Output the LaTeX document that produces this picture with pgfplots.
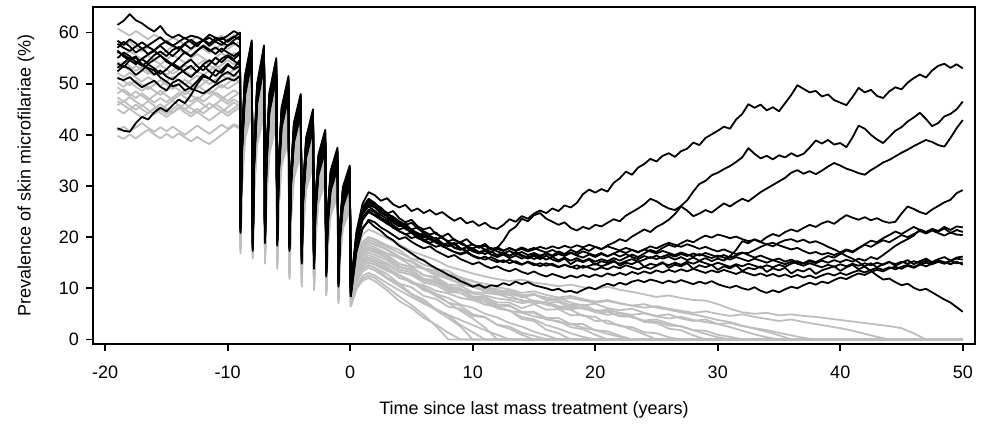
\documentclass[border=0pt]{standalone}
\usepackage{fontspec}
\setmainfont{Liberation Sans}
\usepackage{pgfplots}
\usepackage{pgfplotstable}
\pgfplotsset{compat=1.18}
\definecolor{simgray}{RGB}{190,190,190}

% one row per simulated run: endemic phase and ten annual treatments (-9 ... 0)
\pgfplotstableread[row sep=\\, header=has colnames]{
name -19 -18.5 -18 -17.5 -17 -16.5 -16 -15.5 -15 -14.5 -14 -13.5 -13 -12.5 -12 -11.5 -11 -10.5 -10 -9.5 -9
 -8.96 -8.85 -8.6 -8.04 -7.96 -7.85 -7.6 -7.04 -6.96 -6.85 -6.6 -6.04 -5.96 -5.85 -5.6 -5.04 -4.96 -4.85 -4.6 -4.04
 -3.96 -3.85 -3.6 -3.04 -2.96 -2.85 -2.6 -2.04 -1.96 -1.85 -1.6 -1.04 -0.96 -0.85 -0.6 -0.04 0.04 \\
b1 61.5 62.3 63.6 62.4 61.8 60.9 60.2 61.3 59.7 59.0 59.6 58.8 59.4 59.1 58.5 59.6 59.0 58.7 59.4 60.3 59.6
 22.8 38.9 51.5 58.5 19.3 36.5 50.0 57.5 20.8 36.2 48.3 55.0 20.3 34.3 45.4 51.5 19.3 32.2 42.4 48.0
 16.8 29.5 39.5 45.0 15.8 27.1 36.1 41.0 14.3 24.7 33.0 37.5 12.3 22.1 29.8 34.0 10.3 \\
b2 41.3 40.8 40.6 42.3 43.5 43.0 44.4 45.3 44.6 45.8 46.9 46.2 47.8 49.9 51.4 51.0 52.7 52.1 53.6 53.0 54.7
 21.5 37.1 49.0 56.0 18.0 34.7 47.5 55.0 19.5 34.4 45.8 52.5 19.0 32.5 42.9 49.0 18.0 30.4 39.9 45.5
 15.5 27.7 37.0 42.5 14.5 25.3 33.6 38.5 13.0 22.9 30.5 35.0 11.0 20.3 27.3 31.5 9.0 \\
b3 51.1 50.7 51.3 50.2 49.3 50.0 50.6 49.4 48.7 50.2 50.8 49.9 49.0 48.6 48.1 48.9 49.8 50.5 51.1 50.6 51.5
 21.8 37.4 49.5 56.5 18.3 35.0 48.0 55.5 19.8 34.7 46.3 53.0 19.3 32.8 43.4 49.5 18.3 30.7 40.4 46.0
 15.8 28.0 37.5 43.0 14.8 25.6 34.1 39.0 13.3 23.2 31.0 35.5 11.3 20.6 27.8 32.0 9.3 \\
b4 56.2 55.6 54.9 55.3 53.8 53.1 52.6 51.2 50.4 49.5 49.9 48.7 49.3 50.5 51.8 51.0 50.2 51.6 52.3 51.5 52.8
 21.3 36.7 48.5 55.5 17.8 34.3 47.0 54.5 19.3 34.0 45.3 52.0 18.8 32.1 42.4 48.5 17.8 30.0 39.4 45.0
 15.3 27.3 36.5 42.0 14.3 24.9 33.1 38.0 12.8 22.5 30.0 34.5 10.8 19.9 26.8 31.0 8.8 \\
b5 57.8 57.0 56.4 57.3 58.1 57.2 56.5 57.6 58.3 57.5 56.8 57.9 58.6 57.7 58.4 59.0 58.2 57.6 58.5 59.2 58.6
 22.5 38.6 51.0 58.0 19.0 36.2 49.5 57.0 20.5 35.9 47.8 54.5 20.0 34.0 44.9 51.0 19.0 31.9 41.9 47.5
 16.5 29.2 39.0 44.5 15.5 26.8 35.6 40.5 14.0 24.4 32.5 37.0 12.0 21.8 29.3 33.5 10.0 \\
b6 55.0 56.1 55.4 54.2 54.8 53.9 54.7 55.5 54.6 53.8 55.0 56.2 55.4 56.5 57.3 56.4 57.1 56.2 57.5 58.0 57.1
 22.0 37.8 50.0 57.0 18.5 35.4 48.5 56.0 20.0 35.1 46.8 53.5 19.5 33.2 43.9 50.0 18.5 31.1 40.9 46.5
 16.0 28.4 38.0 43.5 15.0 26.0 34.6 39.5 13.5 23.6 31.5 36.0 11.5 21.0 28.3 32.5 9.5 \\
b7 54.0 53.2 54.6 55.1 53.7 52.9 51.8 52.6 51.4 50.8 51.9 52.7 53.5 52.3 53.8 54.6 53.7 54.9 55.6 54.8 55.9
 21.6 37.0 49.2 55.8 18.1 34.8 47.3 55.2 19.4 34.5 45.6 52.7 19.1 32.4 43.1 48.8 17.9 30.5 39.7 45.7
 15.6 27.6 37.2 42.3 14.4 25.4 33.4 38.7 13.1 22.8 30.7 34.8 10.9 20.4 27.1 31.7 9.0 \\
b8 53.1 54.0 55.2 54.3 53.5 54.4 55.6 56.3 55.4 56.6 57.2 56.1 55.3 56.4 57.5 56.7 55.8 56.9 56.1 55.4 56.3
 22.3 38.2 50.5 57.5 18.8 35.8 49.0 56.5 20.3 35.5 47.3 54.0 19.8 33.6 44.4 50.5 18.8 31.5 41.4 47.0
 16.3 28.8 38.5 44.0 15.3 26.4 35.1 40.0 13.8 24.0 32.0 36.5 11.8 21.4 28.8 33.0 9.8 \\
b9 58.4 57.6 58.7 57.9 56.8 57.5 58.3 59.1 58.0 57.4 58.2 59.0 58.1 57.3 58.6 57.8 58.9 58.2 57.4 58.5 59.3
 21.0 36.3 48.0 55.0 17.5 33.9 46.5 54.0 19.0 33.6 44.8 51.5 18.5 31.7 41.9 48.0 17.5 29.6 38.9 44.5
 15.0 26.9 36.0 41.5 14.0 24.5 32.6 37.5 12.5 22.1 29.5 34.0 10.5 19.5 26.3 30.5 8.5 \\
b10 56.5 55.3 54.6 53.8 54.9 55.7 56.4 55.5 54.3 53.6 52.8 53.9 54.7 53.4 52.6 53.8 55.1 54.2 55.3 54.5 53.6
 21.7 37.5 49.3 56.7 18.4 34.9 48.2 55.3 19.7 34.8 46.1 53.2 19.4 32.7 43.6 49.3 18.2 30.8 40.2 46.2
 15.9 27.9 37.7 42.8 14.7 25.7 33.9 39.2 13.4 23.1 31.2 35.3 11.2 20.7 27.6 32.2 9.4 \\
b11 52.4 53.5 52.9 51.7 52.6 53.8 53.0 51.9 52.8 54.0 53.2 52.1 51.3 52.5 53.6 52.4 51.5 52.7 53.9 52.8 53.5
 20.8 35.9 47.5 54.5 17.3 33.5 46.0 53.5 18.8 33.2 44.3 51.0 18.3 31.3 41.4 47.5 17.3 29.2 38.4 44.0
 14.8 26.5 35.5 41.0 13.8 24.1 32.1 37.0 12.3 21.7 29.0 33.5 10.3 19.1 25.8 30.0 8.3 \\
b12 57.0 58.2 57.3 56.1 56.9 55.8 56.6 57.4 56.3 55.4 56.5 57.7 56.8 57.9 58.5 57.4 58.3 59.0 58.2 59.1 60.0
 22.4 38.7 50.8 58.2 19.1 36.1 49.7 56.8 20.4 36.0 47.6 54.7 20.1 33.9 45.1 50.8 18.9 32.0 41.7 47.7
 16.6 29.1 39.2 44.3 15.4 26.9 35.4 40.7 14.1 24.3 32.7 36.8 11.9 21.9 29.1 33.7 10.0 \\
g1 60.8 60.1 59.4 60.3 59.5 58.7 59.6 58.9 58.2 59.0 58.4 57.6 58.5 59.2 58.6 57.9 58.8 59.4 58.7 59.5 58.9
 21.5 37.0 49.0 55.9 20.5 36.0 48.0 54.9 19.5 34.3 45.8 52.4 18.5 32.2 42.9 49.0 16.5 29.6 39.8 45.6
 15.0 27.4 37.1 42.6 14.0 25.1 33.8 38.7 13.0 23.0 30.8 35.3 11.5 20.7 27.8 31.9 10.5 \\
g2 58.5 57.4 58.2 57.1 56.3 57.2 56.5 55.6 56.4 57.3 56.6 55.8 56.7 57.5 56.8 56.0 56.9 57.7 56.8 57.6 58.2
 21.0 36.2 48.0 54.7 20.0 35.2 47.0 53.8 19.0 33.6 44.9 51.4 18.0 31.5 42.0 48.0 16.0 28.9 38.9 44.6
 14.5 26.8 36.3 41.8 13.5 24.5 33.0 37.9 12.5 22.4 30.2 34.6 11.0 20.1 27.2 31.2 10.0 \\
g3 56.3 55.5 56.4 55.6 54.7 55.5 54.6 53.8 54.7 55.6 54.9 54.1 55.0 55.8 55.0 54.2 55.1 56.0 55.2 56.0 55.4
 20.5 35.4 47.0 53.6 19.5 34.4 46.0 52.6 18.5 32.8 44.0 50.3 17.5 30.8 41.1 47.0 15.5 28.2 38.1 43.7
 14.0 26.1 35.5 40.9 13.0 23.8 32.3 37.1 12.0 21.8 29.4 33.8 10.5 19.5 26.6 30.6 9.5 \\
g4 54.2 53.4 52.6 53.5 52.7 51.9 52.8 53.6 52.8 51.9 52.7 53.6 52.8 53.7 54.5 53.6 52.8 53.7 54.6 53.8 54.4
 20.0 34.9 46.4 53.0 19.0 33.9 45.5 52.1 18.0 32.3 43.4 49.8 17.0 30.3 40.6 46.5 15.0 27.7 37.6 43.2
 13.5 25.7 35.1 40.5 12.5 23.4 31.9 36.7 11.5 21.4 29.1 33.5 10.0 19.1 26.2 30.2 9.0 \\
g5 53.5 54.3 53.4 52.5 53.3 52.4 51.6 52.5 51.7 52.6 53.4 52.5 51.6 52.5 51.7 52.6 53.5 52.6 51.8 52.7 53.3
 20.0 34.6 45.9 52.4 19.0 33.6 45.0 51.5 18.0 32.0 43.0 49.2 17.0 30.1 40.2 46.0 15.0 27.5 37.2 42.8
 13.5 25.4 34.7 40.0 12.5 23.2 31.5 36.3 11.5 21.2 28.8 33.1 10.0 19.0 25.9 29.9 9.0 \\
g6 52.1 51.3 52.2 51.2 50.4 51.3 50.5 49.6 50.5 51.4 50.6 49.8 50.7 51.6 50.8 49.9 50.8 51.7 50.9 51.8 51.2
 19.5 34.1 45.4 51.9 18.5 33.1 44.5 51.0 17.5 31.5 42.5 48.7 16.5 29.6 39.7 45.5 14.5 27.0 36.7 42.3
 13.0 25.0 34.3 39.6 12.0 22.8 31.1 35.9 11.0 20.8 28.4 32.8 9.5 18.5 25.6 29.6 8.5 \\
g7 51.4 50.5 49.7 50.6 49.8 48.9 49.8 50.7 49.8 49.0 49.9 50.8 50.0 49.1 50.0 50.9 50.1 49.2 50.1 51.0 50.3
 19.5 33.8 45.0 51.3 18.5 32.9 44.0 50.4 17.5 31.3 42.1 48.2 16.5 29.3 39.3 45.0 14.5 26.8 36.4 41.9
 13.0 24.8 34.0 39.2 12.0 22.6 30.9 35.6 11.0 20.6 28.1 32.4 9.5 18.4 25.3 29.3 8.5 \\
g8 50.2 49.4 50.3 49.4 48.6 49.5 48.6 47.8 48.7 49.6 48.8 47.9 48.8 49.7 48.8 48.0 48.9 49.8 49.0 49.8 50.5
 19.0 33.3 44.4 50.7 18.0 32.3 43.4 49.8 17.0 30.8 41.5 47.6 16.0 28.8 38.8 44.5 14.0 26.3 35.9 41.4
 12.5 24.3 33.5 38.7 11.5 22.2 30.5 35.2 10.5 20.2 27.7 32.0 9.0 18.0 24.9 28.9 8.0 \\
g9 49.3 48.4 47.6 48.5 47.6 46.8 47.7 48.6 47.7 46.8 47.7 48.6 47.8 46.9 47.8 48.7 47.8 47.0 47.9 48.7 48.0
 18.5 32.5 43.4 49.6 17.5 31.5 42.5 48.7 16.5 30.0 40.5 46.5 15.5 28.1 37.9 43.5 13.5 25.7 35.1 40.5
 12.0 23.6 32.6 37.8 11.0 21.5 29.7 34.4 10.0 19.6 27.0 31.3 8.5 17.4 24.3 28.3 7.5 \\
g10 48.1 48.9 48.0 47.2 48.1 47.2 46.3 47.2 46.4 47.3 48.2 47.3 46.5 47.4 46.5 47.4 48.3 47.5 46.6 47.5 48.3
 18.5 32.2 42.9 49.0 17.5 31.3 42.1 48.2 16.5 29.8 40.1 46.0 15.5 27.9 37.5 43.0 13.5 25.4 34.7 40.0
 12.0 23.4 32.3 37.4 11.0 21.4 29.4 34.0 10.0 19.5 26.8 31.0 8.5 17.3 24.1 28.0 7.5 \\
g11 47.3 46.5 47.4 46.5 45.7 46.6 45.7 44.9 45.8 46.7 45.8 45.0 45.9 46.8 45.9 45.1 46.0 46.9 46.0 46.9 46.2
 18.0 31.7 42.4 48.5 17.0 30.8 41.5 47.6 16.0 29.3 39.6 45.5 15.0 27.4 37.0 42.5 13.0 24.9 34.2 39.5
 11.5 23.0 31.9 37.0 10.5 20.9 29.0 33.6 9.5 19.0 26.4 30.6 8.0 16.8 23.7 27.6 7.0 \\
g12 46.6 45.8 45.0 45.9 45.0 44.2 45.1 46.0 45.1 44.3 45.2 46.1 45.2 44.4 45.3 46.2 45.3 44.5 45.4 46.3 45.6
 18.0 31.5 41.9 47.9 17.0 30.5 41.0 47.0 16.0 29.0 39.1 44.9 15.0 27.2 36.6 42.0 13.0 24.7 33.9 39.1
 11.5 22.8 31.5 36.5 10.5 20.7 28.7 33.2 9.5 18.8 26.1 30.2 8.0 16.7 23.4 27.3 7.0 \\
g13 45.8 46.6 45.7 44.9 45.8 44.9 44.0 44.9 44.1 45.0 45.9 45.0 44.2 45.1 44.2 45.1 46.0 45.2 44.3 45.2 46.0
 17.5 30.9 41.3 47.3 16.5 30.0 40.5 46.5 15.5 28.5 38.6 44.4 14.5 26.7 36.1 41.5 12.5 24.2 33.4 38.6
 11.0 22.3 31.1 36.1 10.0 20.3 28.2 32.8 9.0 18.4 25.7 29.9 7.5 16.3 23.1 27.0 6.5 \\
g14 45.0 44.2 45.1 44.2 43.4 44.3 45.2 44.3 43.5 44.4 45.3 44.4 43.6 44.5 43.6 42.8 43.7 44.6 43.7 44.6 45.4
 17.5 30.6 40.9 46.7 16.5 29.7 40.0 45.9 15.5 28.3 38.2 43.9 14.5 26.4 35.7 41.0 12.5 24.0 33.0 38.1
 11.0 22.1 30.8 35.7 10.0 20.1 27.9 32.4 9.0 18.2 25.4 29.5 7.5 16.1 22.9 26.7 6.5 \\
g15 40.8 41.6 40.7 41.5 42.3 41.4 40.6 41.5 40.7 41.6 40.8 40.0 40.9 41.8 41.0 40.2 41.1 42.0 41.2 42.1 41.5
 17.0 29.9 39.9 45.6 16.0 29.0 39.0 44.8 15.0 27.5 37.2 42.8 14.0 25.7 34.8 40.0 12.0 23.3 32.2 37.2
 10.5 21.4 29.9 34.8 9.7 19.6 27.2 31.6 8.7 17.7 24.8 28.8 7.2 15.7 22.2 26.0 6.4 \\
g16 39.8 39.2 40.1 39.3 40.2 41.0 40.1 39.3 40.2 39.4 40.3 39.5 38.7 39.6 38.8 38.2 39.1 40.0 40.9 41.8 41.2
 16.8 29.3 39.0 44.5 15.8 28.4 38.1 43.7 14.8 26.9 36.3 41.7 13.8 25.1 34.0 39.0 11.8 22.8 31.4 36.3
 10.3 20.9 29.2 33.9 9.6 19.1 26.6 30.8 8.6 17.4 24.2 28.1 7.1 15.3 21.7 25.4 6.4 \\
}\preraw
\pgfplotstabletranspose[colnames from=name]{\pretab}{\preraw}

% runs that keep transmission going after the last treatment
\pgfplotstableread[row sep=\\, header=has colnames]{
name 0.04 0.5 1 1.5 2 2.5 3 3.5 4 4.5 5 5.5 6 6.5 7 7.5 8 8.5 9 9.5 10 10.5 11 11.5 12 12.5 13 13.5 14 14.5 15
 15.5 16 16.5 17 17.5 18 18.5 19 19.5 20 20.5 21 21.5 22 22.5 23 23.5 24 24.5 25 25.5 26 26.5 27 27.5 28 28.5 29 29.5 30
 30.5 31 31.5 32 32.5 33 33.5 34 34.5 35 35.5 36 36.5 37 37.5 38 38.5 39 39.5 40 40.5 41 41.5 42 42.5 43 43.5 44 44.5 45
 45.5 46 46.5 47 47.5 48 48.5 49 49.5 50 \\
b1 10.3 21.0 26.5 28.8 28.2 27.1 27.6 26.4 25.8 26.3 25.1 25.6 24.7 25.3 24.4 24.9 24.0 23.2 23.8 22.7 23.1
 22.2 22.8 21.9 21.6 22.4 23.5 23.0 24.1 23.6 24.6 25.2 24.7 25.6 25.1 26.2 25.8 26.7 28.4 29.3 28.7
 29.4 28.9 30.6 31.5 32.8 32.2 33.6 34.3 35.3 34.8 35.9 36.4 35.7 36.8 37.3 38.5 38.0 39.4 40.1 40.8
 41.6 41.2 43.0 44.1 46.0 45.3 45.9 44.8 45.4 44.6 46.2 47.8 49.7 49.0 48.3 48.6 47.5 47.9 46.8 46.3
 45.8 47.4 49.2 48.3 48.8 47.6 47.2 48.5 49.3 48.9 50.2 51.1 51.8 51.2 52.6 53.5 53.9 53.1 53.8 53.0 \\
b2 9.0 20.0 25.5 27.2 26.4 25.8 24.6 25.1 23.7 22.9 23.4 22.1 21.5 21.9 20.6 20.1 20.7 19.4 19.0 19.6 18.5
 18.1 18.7 17.6 17.9 19.3 21.2 22.0 23.6 23.1 24.3 24.7 23.6 23.0 22.4 22.9 21.8 21.3 22.0 21.6 22.4
 22.1 22.8 23.5 23.1 24.2 24.9 25.6 26.4 27.5 27.0 26.2 25.6 25.3 26.1 27.2 28.9 30.4 31.0 32.1 32.6
 33.3 33.9 34.7 35.6 37.4 36.3 35.4 35.9 35.2 36.0 35.6 36.4 35.8 36.3 37.5 38.9 38.3 39.0 38.1 38.4
 37.6 39.5 41.8 41.2 40.0 39.1 38.4 39.6 40.8 41.5 42.6 43.4 44.3 43.1 41.7 42.3 43.6 44.1 45.0 46.5 \\
b3 9.3 19.5 24.8 26.0 25.1 24.3 23.6 22.8 22.1 22.6 21.4 20.8 20.2 19.5 19.9 18.8 18.3 18.9 17.8 17.3 17.7
 16.9 17.4 16.6 16.2 16.8 16.3 17.1 16.5 16.0 16.6 16.1 16.9 16.4 17.2 16.7 17.5 17.0 17.8 17.3 18.1
 17.6 18.4 18.9 19.6 19.2 20.1 20.8 21.5 21.0 22.0 22.6 23.4 24.5 26.0 25.2 24.1 24.6 25.3 24.8 25.7
 26.6 26.0 26.8 27.5 27.0 27.9 28.8 29.5 30.2 30.9 31.6 32.6 33.1 32.4 32.9 32.3 33.0 33.8 34.5 34.0
 33.4 33.0 32.5 32.2 33.1 33.8 34.6 35.1 35.8 36.5 37.1 37.8 38.4 39.0 38.6 38.0 37.7 39.4 41.3 42.9 \\
b4 8.8 18.8 23.6 24.9 24.2 23.4 22.9 21.8 21.2 20.5 20.9 19.8 19.3 19.8 18.9 18.4 18.8 17.9 17.5 18.1 17.4
 17.0 17.6 17.1 17.7 17.3 17.9 17.4 18.0 17.5 17.9 17.4 17.0 17.5 16.9 16.5 17.0 16.6 17.2 16.8 16.4
 16.9 16.3 16.8 16.2 16.7 16.1 15.7 16.3 15.9 16.4 15.8 16.2 15.6 16.1 15.5 16.0 15.4 15.9 15.3 15.8
 15.4 16.3 17.5 19.2 18.8 19.6 19.1 20.0 20.6 20.2 21.0 21.5 21.1 21.8 22.4 22.0 22.7 23.1 22.6 23.5
 24.3 23.8 23.4 23.9 23.3 23.7 23.1 22.8 23.0 24.6 26.0 25.5 24.9 24.5 25.4 26.1 26.8 27.3 28.6 29.2 \\
b5 10.0 20.5 25.8 27.5 26.7 25.4 24.8 23.6 23.0 22.2 21.5 21.9 20.7 20.1 19.6 20.0 19.0 18.6 19.1 18.2 17.8
 18.3 17.5 17.9 17.2 16.8 17.3 16.7 17.1 16.5 16.9 16.4 16.8 16.2 16.7 16.3 16.9 16.4 16.0 16.6 16.1
 16.7 16.2 16.8 17.3 16.9 17.5 17.0 17.6 18.2 17.8 18.4 18.9 18.5 18.1 18.6 18.2 17.7 18.1 17.6 17.2
 17.6 17.1 16.7 17.0 16.5 16.0 16.4 15.9 15.5 15.8 15.2 15.6 15.1 14.8 15.3 14.9 15.4 15.0 15.5 15.1
 15.6 15.2 15.8 15.4 16.1 15.7 16.5 17.4 18.3 19.0 19.6 20.3 21.5 21.0 21.6 21.2 22.0 21.4 22.1 21.9 \\
b6 9.5 19.2 24.4 26.3 25.8 24.7 24.1 23.0 22.5 21.6 21.0 20.3 20.7 19.6 19.1 18.5 18.9 18.0 17.6 18.0 17.2
 16.8 17.3 16.6 16.1 16.6 15.9 16.4 15.8 16.3 15.7 16.2 15.6 16.1 15.5 16.0 15.4 15.9 15.3 15.8 15.2
 15.7 15.3 15.9 15.4 16.0 16.6 16.1 16.8 17.5 17.1 17.9 18.5 18.1 18.8 19.4 19.0 19.7 20.3 19.9 20.5
 20.2 19.8 20.1 19.6 19.2 19.5 19.0 18.6 18.9 18.4 18.0 17.6 17.9 17.3 16.8 17.1 16.6 16.9 16.5 17.0
 17.6 17.2 17.9 18.6 19.3 19.0 19.8 20.4 21.1 20.6 21.3 22.0 21.4 20.9 21.6 21.1 21.7 20.8 21.4 21.0 \\
b7 9.0 18.6 23.3 25.0 24.4 23.5 22.6 22.0 21.1 20.6 19.8 20.2 19.2 18.7 18.1 18.5 17.6 17.1 16.6 17.0 16.3
 15.8 16.2 15.6 15.1 15.5 14.9 15.3 14.7 15.1 14.5 14.9 14.4 14.8 14.2 14.6 14.1 14.5 14.0 14.4 14.8
 14.3 14.7 15.2 14.8 15.3 15.7 15.2 15.6 16.1 15.7 16.2 16.6 16.2 16.7 16.3 16.8 16.4 16.9 16.5 16.1
 16.5 16.0 16.4 16.9 16.9 17.5 18.1 18.6 18.2 18.9 19.4 19.6 19.1 19.5 18.9 19.2 18.7 18.1 17.6 17.0
 16.3 15.8 15.1 14.2 13.4 12.5 11.7 11.9 11.2 10.6 10.9 10.1 9.6 9.9 9.2 8.5 7.8 7.2 6.3 5.4 \\
b8 9.8 19.8 24.9 26.8 26.0 25.0 24.2 23.3 22.8 21.8 21.2 20.5 19.9 20.3 19.4 18.8 18.2 18.6 17.8 17.3 17.8
 17.1 16.7 17.2 16.5 17.0 16.4 16.9 16.3 15.8 16.3 15.7 16.4 15.6 15.2 15.8 14.7 15.5 15.1 15.6 14.6
 15.3 14.9 15.5 14.4 15.0 14.7 15.3 14.2 14.8 14.5 15.1 14.0 14.6 14.3 14.9 13.8 14.5 14.1 14.6 13.6
 14.3 13.9 14.5 13.4 14.0 13.7 14.3 13.2 13.9 13.5 14.0 12.9 13.6 13.3 13.9 12.8 13.5 13.9 14.3 13.4
 14.1 14.6 13.7 14.3 14.9 14.1 14.7 15.2 14.4 15.0 15.5 14.7 15.3 15.8 15.1 15.7 16.1 15.4 16.0 16.2 \\
b9 8.5 17.5 21.8 23.1 22.0 21.2 20.1 19.4 18.3 17.6 16.8 16.0 15.4 14.6 13.9 13.3 12.6 12.1 11.4 10.9 10.3
 10.7 10.1 10.6 10.4 11.0 10.6 11.3 10.8 11.2 10.6 10.3 10.0 9.6 9.9 9.3 9.5 9.1 9.7 10.2 9.8
 10.4 10.9 10.5 11.1 10.7 11.3 11.6 11.2 11.7 11.4 11.0 11.5 11.1 11.6 11.2 10.8 11.3 10.9 11.4 10.8
 10.4 10.1 10.5 10.0 9.7 10.2 9.5 9.1 9.6 9.2 9.8 10.3 10.0 10.6 11.1 10.7 11.3 11.0 11.6 12.1
 11.8 12.4 12.9 12.6 13.2 13.6 13.3 13.9 14.2 13.8 14.4 14.0 14.6 15.0 14.7 15.2 14.9 15.4 15.8 15.6 \\
b10 9.4 18.9 23.8 25.4 24.9 23.8 23.2 22.3 21.5 21.9 20.8 20.2 19.5 18.9 19.3 18.2 17.7 17.1 16.8 17.2 16.4
 16.0 15.6 16.1 15.5 15.1 15.6 15.0 14.6 15.2 14.8 14.3 14.9 14.5 14.1 14.6 14.2 13.8 14.4 14.0 13.6
 14.1 13.7 14.3 13.9 14.5 14.1 13.7 14.2 13.8 14.4 14.9 14.5 15.0 14.6 15.2 14.8 15.3 14.9 14.5 15.0
 14.6 14.2 14.7 14.3 14.8 14.4 14.0 14.5 14.1 14.6 14.2 14.8 15.3 14.9 15.5 15.1 15.7 16.3 16.0 16.7
 17.4 17.0 17.8 18.5 18.1 18.8 19.4 19.0 19.7 20.4 20.0 20.6 21.2 20.7 21.3 20.8 20.3 20.9 20.5 20.4 \\
b11 8.3 17.0 21.6 23.4 22.9 21.9 21.2 20.4 19.6 20.0 19.1 18.4 17.8 18.2 17.3 16.7 16.1 16.5 15.7 15.2 14.7
 15.1 14.4 13.9 14.3 13.7 13.3 13.8 13.2 12.8 13.3 12.7 12.3 12.8 12.4 12.0 12.5 12.1 12.6 12.2 12.7
 12.3 12.9 12.5 13.0 12.6 13.2 12.8 13.3 12.9 13.5 13.1 13.6 13.2 13.7 13.3 13.8 13.4 13.0 13.5 13.1
 13.6 13.2 12.8 13.3 12.9 12.5 12.9 12.4 12.8 12.3 12.7 12.2 12.6 12.1 12.5 12.0 12.5 12.9 12.5 13.0
 12.6 13.1 13.5 13.1 13.6 14.0 13.6 14.1 13.7 14.2 14.6 14.2 14.7 14.3 14.8 15.2 14.8 15.3 14.9 15.0 \\
b12 10.0 20.2 25.2 27.0 26.3 25.5 24.5 24.0 23.1 22.4 22.8 21.7 21.1 20.5 20.9 19.8 19.2 19.6 18.7 18.2 18.6
 17.9 18.3 17.6 18.0 17.4 17.8 17.3 17.7 17.2 17.6 18.1 17.7 18.2 17.8 18.3 17.9 18.4 18.0 18.5 18.1
 17.7 18.2 17.8 17.4 17.9 17.5 17.1 17.6 17.2 16.8 17.3 16.9 16.5 17.0 16.6 16.2 16.7 16.3 15.9 16.4
 16.0 15.6 16.1 15.7 15.3 15.8 15.4 15.0 15.5 15.1 14.7 15.2 14.8 14.4 14.9 14.5 14.1 14.6 14.2 14.7
 14.3 14.8 14.4 14.9 14.5 15.0 14.6 15.1 14.7 15.2 14.8 15.3 14.9 15.4 15.0 15.5 15.1 14.7 15.2 14.6 \\
}\blackraw
\pgfplotstabletranspose[colnames from=name]{\blacktab}{\blackraw}

% runs that reach elimination (g17-g24 continue from the minima of earlier runs)
\pgfplotstableread[row sep=\\, header=has colnames]{
name 0.04 0.5 1 1.5 2 3 4 5 6 7 8 9 10 11 12 13 14 15 16 17 18 19 20 21 22
 23 24 25 26 27 28 29 30 31 32 33 34 35 36 37 38 39 40 41 42 43 44 45 46 47 48 49 50 \\
g1 10.5 16.2 19.1 20.0 19.6 18.4 17.5 15.7 15.6 13.8 13.4 12.0 11.5 10.2 9.8 8.9 8.6 7.4 7.2 6.0 5.8 4.6 4.4 3.1 2.8
 1.9 1.0 0 0 0 0 0 0 0 0 0 0 0 0 0 0 0 0 0 0 0 0 0 0 0 0 0 0 \\
g2 10.0 16.8 20.5 21.5 21.0 19.8 18.6 17.2 16.4 15.5 14.3 13.6 12.9 12.3 11.8 11.4 11.7 11.1 10.8 10.4 10.7 10.2 9.9 10.3 9.7
 9.3 8.8 8.3 8.6 8.1 7.7 7.6 6.9 6.0 5.3 5.0 5.2 4.7 4.9 4.6 4.4 4.1 3.8 3.5 3.2 2.9 2.6 2.2 1.2 0 0 0 0 \\
g3 9.5 14.6 17.2 18.0 17.6 16.5 14.8 14.1 12.6 11.9 10.3 10.0 8.2 7.8 6.1 5.7 4.0 3.6 1.9 1.2 0 0 0 0 0
 0 0 0 0 0 0 0 0 0 0 0 0 0 0 0 0 0 0 0 0 0 0 0 0 0 0 0 0 \\
g4 9.0 15.6 19.0 20.0 19.4 18.1 16.9 15.8 14.6 13.9 12.8 12.2 11.3 10.9 10.2 9.8 9.1 9.4 8.7 8.2 8.5 7.9 7.4 7.7 7.1
 6.6 6.9 6.2 5.8 5.3 4.9 4.4 3.8 3.4 2.7 2.1 1.5 0.8 0 0 0 0 0 0 0 0 0 0 0 0 0 0 0 \\
g5 9.0 13.2 15.3 16.0 15.5 14.1 12.6 11.4 9.9 8.5 7.2 5.6 4.1 2.3 0 0 0 0 0 0 0 0 0 0 0
 0 0 0 0 0 0 0 0 0 0 0 0 0 0 0 0 0 0 0 0 0 0 0 0 0 0 0 0 \\
g6 8.5 14.8 18.1 19.0 18.6 17.5 15.8 15.3 13.9 13.4 12.1 11.8 10.6 10.4 9.3 9.3 8.2 8.8 7.7 7.6 6.7 6.8 5.7 5.6 4.6
 4.5 3.4 3.2 2.1 1.8 0.8 0 0 0 0 0 0 0 0 0 0 0 0 0 0 0 0 0 0 0 0 0 0 \\
g7 8.5 13.9 16.6 17.5 17.0 16.0 14.2 13.7 11.8 11.6 9.9 9.8 8.3 8.2 6.8 6.7 5.3 5.2 3.9 3.6 2.4 2.0 0.9 0 0
 0 0 0 0 0 0 0 0 0 0 0 0 0 0 0 0 0 0 0 0 0 0 0 0 0 0 0 0 \\
g8 8.0 14.9 18.5 19.5 19.0 17.6 16.2 15.1 13.8 12.9 11.8 11.1 10.3 9.8 9.2 8.9 8.4 8.7 8.2 7.8 8.1 7.6 7.2 7.5 7.0
 6.6 6.2 6.5 6.0 5.6 5.2 5.5 5.0 4.6 4.9 4.4 4.0 3.6 3.9 3.4 3.0 2.6 2.2 1.7 1.1 0.5 0 0 0 0 0 0 0 \\
g9 7.5 12.3 14.8 15.5 15.0 13.8 12.0 11.3 9.6 8.9 7.2 6.6 4.9 4.4 2.8 2.1 0.9 0 0 0 0 0 0 0 0
 0 0 0 0 0 0 0 0 0 0 0 0 0 0 0 0 0 0 0 0 0 0 0 0 0 0 0 0 \\
g10 7.5 13.8 17.1 18.0 17.5 16.4 14.7 14.2 12.5 12.2 10.7 10.5 9.2 9.1 8.8 8.7 7.5 7.6 7.2 7.3 6.2 6.3 5.3 5.4 4.5
 4.5 3.6 3.5 2.7 2.6 1.8 1.7 0.9 0.5 0 0 0 0 0 0 0 0 0 0 0 0 0 0 0 0 0 0 0 \\
g11 7.0 11.2 13.3 14.0 13.5 11.9 10.4 8.8 7.3 5.7 4.2 2.5 0 0 0 0 0 0 0 0 0 0 0 0 0
 0 0 0 0 0 0 0 0 0 0 0 0 0 0 0 0 0 0 0 0 0 0 0 0 0 0 0 0 \\
g12 7.0 12.7 15.6 16.5 16.0 14.9 13.2 12.6 11.1 10.6 9.3 9.1 7.8 7.8 6.5 6.5 5.4 5.4 4.2 4.2 3.0 3.0 1.8 1.6 0.7
 0 0 0 0 0 0 0 0 0 0 0 0 0 0 0 0 0 0 0 0 0 0 0 0 0 0 0 0 \\
g13 6.5 10.1 11.9 12.5 12.0 10.2 8.4 6.7 4.8 2.6 0 0 0 0 0 0 0 0 0 0 0 0 0 0 0
 0 0 0 0 0 0 0 0 0 0 0 0 0 0 0 0 0 0 0 0 0 0 0 0 0 0 0 0 \\
g14 6.5 12.8 16.1 17.0 16.5 15.5 13.7 13.1 11.6 11.1 9.8 9.6 8.4 8.3 7.2 7.2 6.1 6.9 5.8 5.9 4.7 4.8 3.6 3.7 2.6
 2.4 1.4 1.2 0.4 0 0 0 0 0 0 0 0 0 0 0 0 0 0 0 0 0 0 0 0 0 0 0 0 \\
g15 6.4 11.3 13.8 14.5 14.0 12.8 10.9 10.2 8.5 7.9 6.4 6.0 4.6 4.3 2.9 2.5 1.3 0.7 0 0 0 0 0 0 0
 0 0 0 0 0 0 0 0 0 0 0 0 0 0 0 0 0 0 0 0 0 0 0 0 0 0 0 0 \\
g16 6.4 10.4 12.4 13.0 12.5 11.0 9.6 8.3 7.0 5.9 4.8 3.8 2.8 1.8 0.9 0 0 0 0 0 0 0 0 0 0
 0 0 0 0 0 0 0 0 0 0 0 0 0 0 0 0 0 0 0 0 0 0 0 0 0 0 0 0 \\
g17 9.5 15.2 18.2 19.0 18.5 17.6 16.0 15.3 13.9 13.4 12.1 11.8 10.6 10.2 9.3 9.7 8.6 8.9 7.8 8.1 7.2 6.6 7.0 6.1 5.7
 6.0 5.2 4.6 4.9 4.1 3.6 3.9 3.0 2.4 1.7 1.0 0.4 0 0 0 0 0 0 0 0 0 0 0 0 0 0 0 0 \\
g18 9.0 14.1 16.8 17.5 17.2 15.9 14.2 13.5 11.8 11.2 9.7 9.1 7.9 7.3 6.1 5.6 4.4 3.9 2.8 2.1 1.2 0.5 0 0 0
 0 0 0 0 0 0 0 0 0 0 0 0 0 0 0 0 0 0 0 0 0 0 0 0 0 0 0 0 \\
g19 7.5 12.0 14.3 15.0 14.6 13.4 12.5 11.2 10.6 9.5 9.0 8.1 7.7 6.8 6.4 5.6 5.2 4.5 4.0 3.4 3.0 2.3 1.8 1.1 0.5
 0 0 0 0 0 0 0 0 0 0 0 0 0 0 0 0 0 0 0 0 0 0 0 0 0 0 0 0 \\
g20 7.0 12.4 15.2 16.0 15.5 14.6 13.2 12.7 11.5 11.0 10.1 9.8 9.0 8.6 8.0 7.7 7.1 7.4 6.8 6.3 6.6 6.0 5.5 5.8 5.2
 4.8 5.1 4.5 4.1 4.4 3.8 3.4 3.0 3.2 2.6 2.2 1.8 1.3 0.8 0.3 0 0 0 0 0 0 0 0 0 0 0 0 0 \\
g21 6.5 11.3 13.8 14.5 14.0 12.1 10.9 8.9 7.8 5.9 4.7 2.8 1.4 0 0 0 0 0 0 0 0 0 0 0 0
 0 0 0 0 0 0 0 0 0 0 0 0 0 0 0 0 0 0 0 0 0 0 0 0 0 0 0 0 \\
g22 8.5 14.5 17.6 18.5 18.0 16.8 15.9 14.4 13.8 12.5 11.9 10.8 10.3 9.4 8.9 8.1 7.7 7.0 7.3 6.5 5.9 6.2 5.4 4.8 5.1
 4.3 3.7 3.9 3.1 2.5 1.8 1.1 0.4 0 0 0 0 0 0 0 0 0 0 0 0 0 0 0 0 0 0 0 0 \\
g23 6.4 9.8 11.5 12.0 11.4 9.6 7.5 6.1 4.2 2.9 1.3 0 0 0 0 0 0 0 0 0 0 0 0 0 0
 0 0 0 0 0 0 0 0 0 0 0 0 0 0 0 0 0 0 0 0 0 0 0 0 0 0 0 0 \\
g24 7.0 12.1 14.8 15.5 15.1 13.5 12.6 11.0 10.2 8.9 8.1 6.8 6.2 5.0 4.3 3.2 2.5 1.5 0.8 0 0 0 0 0 0
 0 0 0 0 0 0 0 0 0 0 0 0 0 0 0 0 0 0 0 0 0 0 0 0 0 0 0 0 \\
}\grayraw
\pgfplotstabletranspose[colnames from=name]{\graytab}{\grayraw}

\begin{document}
\begin{tikzpicture}
\begin{axis}[
    width=441pt, height=168.5pt, scale only axis,
    xmin=-21, xmax=51, ymin=-0.9, ymax=65,
    xtick={-20,-10,0,10,20,30,40,50},
    ytick={0,10,20,30,40,50,60},
    xtick pos=left, ytick pos=left,
    tick align=outside, major tick length=3.5pt,
    axis line style={line width=0.8pt},
    every tick/.style={black, line width=0.8pt},
    /pgf/number format/assume math mode=true,
    tick label style={font=\fontsize{9}{10}\selectfont},
    label style={font=\fontsize{9}{10}\selectfont},
    x tick label style={yshift=-4pt},
    xlabel={Time since last mass treatment (years)},
    ylabel={Prevalence of skin microfilariae (\%)},
    xlabel style={at={(axis description cs:0.5,-0.196)}, anchor=center},
    ylabel style={at={(axis description cs:-0.076,0.5)}, anchor=center},
    every axis plot/.append style={no markers, line join=round, line width=0.9pt},
]
\pgfplotsinvokeforeach{g1,g2,g3,g4,g5,g6,g7,g8,g9,g10,g11,g12,g13,g14,g15,g16}{
    \addplot[simgray] table[x=colnames, y=#1] {\pretab};
}
\pgfplotsinvokeforeach{g1,g2,g3,g4,g5,g6,g7,g8,g9,g10,g11,g12,g13,g14,g15,g16,g17,g18,g19,g20,g21,g22,g23,g24}{
    \addplot[simgray] table[x=colnames, y=#1] {\graytab};
}
\pgfplotsinvokeforeach{b1,b2,b3,b4,b5,b6,b7,b8,b9,b10,b11,b12}{
    \addplot[black] table[x=colnames, y=#1] {\pretab};
    \addplot[black] table[x=colnames, y=#1] {\blacktab};
}
\end{axis}
\path ([xshift=-46.5pt,yshift=-40.5pt]current axis.south west)
    rectangle ([xshift=5pt,yshift=3.5pt]current axis.north east);
\end{tikzpicture}
\end{document}
